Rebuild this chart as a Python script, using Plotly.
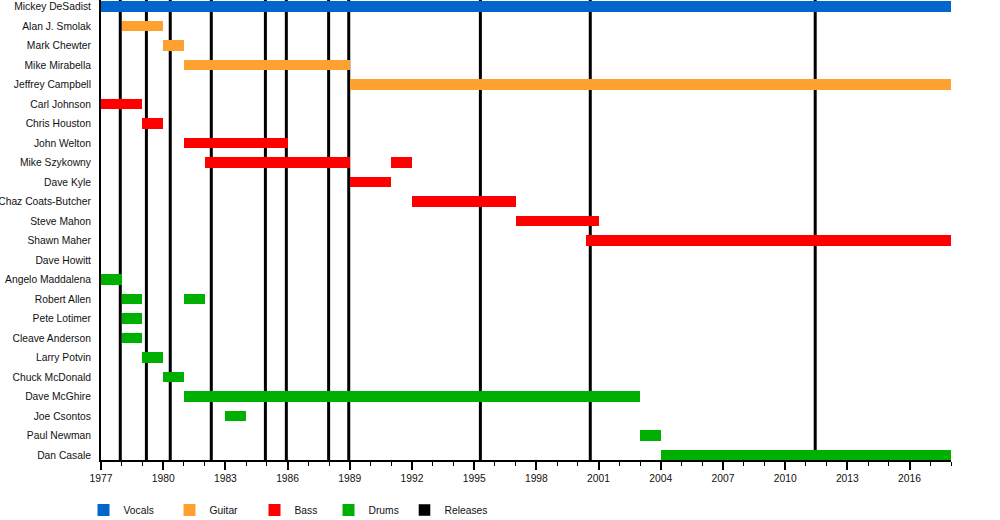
import plotly.graph_objects as go

MEMBERS = ["Mickey DeSadist", "Alan J. Smolak", "Mark Chewter", "Mike Mirabella",
           "Jeffrey Campbell", "Carl Johnson", "Chris Houston", "John Welton",
           "Mike Szykowny", "Dave Kyle", "Chaz Coats-Butcher", "Steve Mahon",
           "Shawn Maher", "Dave Howitt", "Angelo Maddalena", "Robert Allen",
           "Pete Lotimer", "Cleave Anderson", "Larry Potvin", "Chuck McDonald",
           "Dave McGhire", "Joe Csontos", "Paul Newman", "Dan Casale"]

VOCALS_NAMES = ["Mickey DeSadist"]
VOCALS_START = [1977.0]
VOCALS_END = [2018.0]

GUITAR_NAMES = ["Alan J. Smolak", "Mark Chewter", "Mike Mirabella", "Jeffrey Campbell"]
GUITAR_START = [1978.0, 1980.0, 1981.0, 1989.0]
GUITAR_END = [1980.0, 1981.0, 1989.0, 2018.0]

BASS_NAMES = ["Carl Johnson", "Chris Houston", "John Welton", "Mike Szykowny",
              "Mike Szykowny", "Dave Kyle", "Chaz Coats-Butcher", "Steve Mahon", "Shawn Maher"]
BASS_START = [1977.0, 1979.0, 1981.0, 1982.0, 1991.0, 1989.0, 1992.0, 1997.0, 2000.4]
BASS_END = [1979.0, 1980.0, 1986.0, 1989.0, 1992.0, 1991.0, 1997.0, 2001.0, 2018.0]

DRUMS_NAMES = ["Angelo Maddalena", "Robert Allen", "Robert Allen", "Pete Lotimer",
               "Cleave Anderson", "Larry Potvin", "Chuck McDonald", "Dave McGhire",
               "Joe Csontos", "Paul Newman", "Dan Casale"]
DRUMS_START = [1977.0, 1978.0, 1981.0, 1978.0, 1978.0, 1979.0, 1980.0, 1981.0, 1983.0, 2003.0, 2004.0]
DRUMS_END = [1978.0, 1979.0, 1982.0, 1979.0, 1979.0, 1980.0, 1981.0, 2003.0, 1984.0, 2004.0, 2018.0]

RELEASES = [1977.93, 1979.19, 1980.34, 1982.32, 1984.93, 1985.94, 1987.98,
            1988.95, 1995.30, 2000.60, 2011.45]

LEGEND_LABELS = ["Vocals", "Guitar", "Bass", "Drums", "Releases"]

X_START, X_END = 1977, 2018

COLORS = {"Vocals": "#0066cc", "Guitar": "#ffa130", "Bass": "#ff0000",
          "Drums": "#00b000", "Releases": "#000000"}

FONT = "Liberation Sans, Arial, sans-serif"
FS = 10.3

PLOT_L, PLOT_R = 101, 951
LEGEND_CENTERS_PX = [103.5, 189.5, 274.5, 348.5, 424.5]

fig = go.Figure()

groups = [("Vocals", VOCALS_NAMES, VOCALS_START, VOCALS_END),
          ("Guitar", GUITAR_NAMES, GUITAR_START, GUITAR_END),
          ("Bass", BASS_NAMES, BASS_START, BASS_END),
          ("Drums", DRUMS_NAMES, DRUMS_START, DRUMS_END)]

legend_ids = ["legend", "legend2", "legend3", "legend4", "legend5"]

for i, (label, names, starts, ends) in enumerate(groups):
    fig.add_trace(go.Bar(
        y=names, x=[e - s for s, e in zip(starts, ends)], base=starts,
        orientation="h", name=label, marker=dict(color=COLORS[label], line=dict(width=0)),
        width=0.56, hoverinfo="skip", legend=legend_ids[i],
    ))

# legend-only entry for releases
fig.add_trace(go.Bar(y=[None], x=[None], orientation="h", name="Releases",
                     marker=dict(color=COLORS["Releases"]), legend=legend_ids[4]))

for r in RELEASES:
    fig.add_shape(type="line", xref="x", yref="paper", x0=r, x1=r, y0=0, y1=1,
                  line=dict(color="black", width=3), layer="below")

n = len(MEMBERS)
plot_w = PLOT_R - PLOT_L
legend_layouts = {}
for lid, cx in zip(legend_ids, LEGEND_CENTERS_PX):
    legend_layouts[lid] = dict(
        orientation="h", x=(cx - 20 - PLOT_L) / plot_w, y=-0.1087,
        xanchor="left", yanchor="middle", font=dict(size=FS),
        itemclick=False, itemdoubleclick=False, bgcolor="rgba(0,0,0,0)")

fig.update_layout(
    width=1000, height=520,
    margin=dict(l=PLOT_L, r=1000 - PLOT_R, t=0, b=60, autoexpand=False),
    paper_bgcolor="white", plot_bgcolor="white",
    barmode="overlay", bargap=0,
    font=dict(family=FONT, size=FS, color="#111111"),
    showlegend=True,
    **legend_layouts,
    xaxis=dict(range=[X_START, X_END], tick0=X_START, dtick=3, ticks="outside",
               ticklen=8, tickwidth=1.5, tickcolor="black", showline=True,
               linecolor="black", linewidth=2, showgrid=False, zeroline=False,
               tickfont=dict(size=FS), automargin=False,
               minor=dict(dtick=1, tick0=X_START, ticks="outside", ticklen=4,
                          tickcolor="black", tickwidth=1, showgrid=False)),
    yaxis=dict(categoryorder="array", categoryarray=MEMBERS, type="category",
               range=[n - 1 + 0.256, -0.333], showline=True, linecolor="black",
               linewidth=2, showgrid=False, zeroline=False, ticks="outside",
               ticklen=6, tickcolor="rgba(0,0,0,0)", tickfont=dict(size=FS),
               automargin=False),
)

fig.write_html("out.html", config={"displayModeBar": False},
               post_script="document.body.style.margin='0';document.body.style.overflow='hidden';")
